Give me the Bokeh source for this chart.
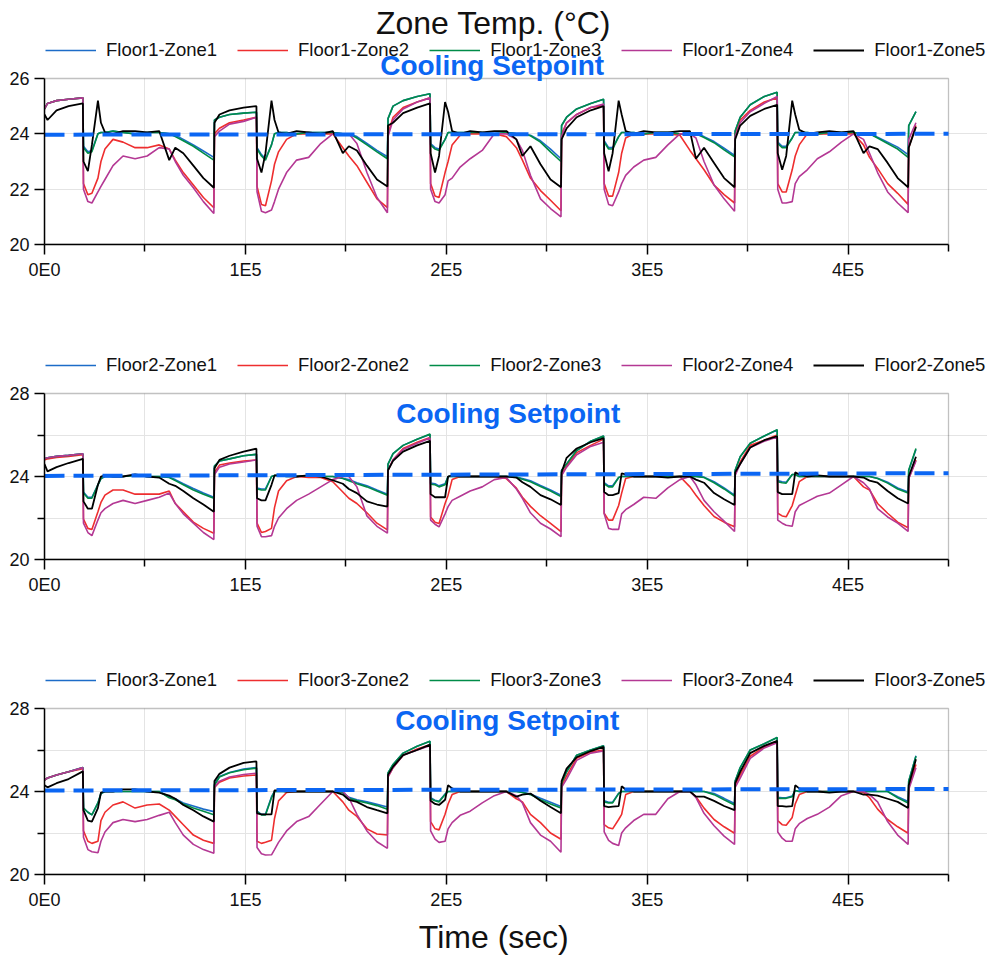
from bokeh.plotting import figure
from bokeh.models import Legend, LegendItem, Label, FixedTicker, Range1d, BoxAnnotation
from bokeh.layouts import column
from bokeh.embed import file_html
from bokeh.resources import INLINE

# ---------------- data ----------------
T = [0, 1500, 6000, 12000,
     19100, 19400, 21600, 23600, 26600, 28100, 30100, 34100, 39100, 45100, 51100, 57100, 62100, 65100, 69100, 74100, 79100, 84300, 84600, 87100, 92100, 99100,
     105500, 105800, 108000, 110000, 113000, 114500, 116500, 120500, 125500, 131500, 137500, 143500, 148500, 151500, 155500, 160500, 165500, 170700, 171000, 173500, 178500, 185500,
     191900, 192200, 194400, 196400, 199400, 200900, 202900, 206900, 211900, 217900, 223900, 229900, 234900, 237900, 241900, 246900, 251900, 257100, 257400, 259900, 264900, 271900,
     278300, 278600, 280800, 282800, 285800, 287300, 289300, 293300, 298300, 304300, 310300, 316300, 321300, 324300, 328300, 333300, 338300, 343500, 343800, 346300, 351300, 358300,
     364700, 365000, 367200, 369200, 372200, 373700, 375700, 379700, 384700, 390700, 396700, 402700, 407700, 410700, 414700, 419700, 424700, 429900, 430200, 433800]

# Floor 1
F1_Z1 = [24.9, 25.1, 25.2, 25.25,
         25.3, 23.55, 23.35, 23.4, 24.0, 24.05, 24.05, 24.1, 24.05, 24.0, 24.05, 24.05, 24.0, 23.95, 23.8, 23.6, 23.38, 23.15, 24.5, 24.6, 24.7, 24.75,
         24.78, 23.5, 23.25, 23.1, 23.6, 24.0, 24.05, 24.05, 24.0, 24.05, 24.05, 24.05, 24.0, 24.0, 23.9, 23.65, 23.4, 23.17, 24.55, 25.0, 25.2, 25.35,
         25.45, 23.65, 23.5, 23.45, 23.8, 24.05, 24.05, 24.05, 24.05, 24.05, 24.0, 24.05, 24.0, 24.0, 23.95, 23.75, 23.45, 23.1, 24.3, 24.6, 24.9, 25.1,
         25.25, 23.75, 23.5, 23.5, 23.9, 24.05, 24.05, 24.05, 24.0, 24.05, 24.05, 24.0, 24.0, 24.0, 23.9, 23.72, 23.48, 23.22, 24.1, 24.6, 25.05, 25.35,
         25.5, 23.7, 23.55, 23.55, 23.85, 24.05, 24.05, 24.05, 24.0, 24.05, 24.05, 24.05, 24.0, 24.0, 23.88, 23.7, 23.52, 23.25, 24.3, 24.8]
F1_Z2 = [24.9, 25.1, 25.2, 25.25,
         25.3, 22.2, 21.8, 21.85, 22.4, 23.0, 23.45, 23.8, 23.7, 23.5, 23.5, 23.6, 23.45, 23.05, 22.6, 22.15, 21.7, 21.33, 24.0, 24.2, 24.4, 24.5,
         24.6, 22.1, 21.45, 21.4, 22.3, 22.9, 23.35, 23.8, 24.0, 24.0, 24.0, 24.0, 23.5, 23.2, 22.85, 22.25, 21.65, 21.33, 24.0, 24.6, 24.95, 25.15,
         25.3, 22.2, 21.75, 21.7, 22.6, 23.0, 23.6, 23.95, 24.0, 24.0, 24.0, 23.9, 23.5, 23.05, 22.4, 21.95, 21.6, 21.22, 24.0, 24.4, 24.7, 24.95,
         25.02, 22.2, 21.75, 21.75, 22.6, 23.3, 23.85, 24.0, 24.0, 24.0, 24.0, 23.95, 23.4, 23.1, 22.7, 22.15, 21.8, 21.5, 24.0, 24.5, 24.85, 25.15,
         25.3, 22.2, 21.9, 21.9, 22.7, 23.2, 23.6, 24.0, 24.0, 24.0, 24.0, 24.0, 23.6, 23.15, 22.75, 22.2, 21.85, 21.45, 23.5, 24.3]
F1_Z3 = [24.9, 25.1, 25.2, 25.25,
         25.3, 23.5, 23.3, 23.35, 24.0, 24.05, 24.05, 24.1, 24.05, 24.0, 24.05, 24.05, 24.0, 23.9, 23.75, 23.55, 23.3, 23.05, 24.5, 24.6, 24.7, 24.75,
         24.78, 23.45, 23.2, 23.05, 23.6, 24.0, 24.05, 24.05, 24.0, 24.05, 24.05, 24.05, 24.0, 24.0, 23.85, 23.6, 23.35, 23.1, 24.55, 25.0, 25.2, 25.35,
         25.45, 23.6, 23.45, 23.4, 23.8, 24.05, 24.05, 24.05, 24.05, 24.05, 24.0, 24.05, 24.0, 24.0, 23.93, 23.7, 23.35, 23.0, 24.3, 24.6, 24.9, 25.1,
         25.25, 23.7, 23.45, 23.45, 23.9, 24.05, 24.05, 24.05, 24.0, 24.05, 24.05, 24.0, 24.0, 24.0, 23.87, 23.68, 23.42, 23.17, 24.1, 24.6, 25.05, 25.35,
         25.5, 23.65, 23.5, 23.5, 23.85, 24.05, 24.05, 24.05, 24.0, 24.05, 24.05, 24.05, 24.0, 24.0, 23.85, 23.65, 23.45, 23.15, 24.3, 24.8]
F1_Z4 = [24.9, 25.1, 25.2, 25.25,
         25.3, 22.0, 21.55, 21.5, 21.9, 22.1, 22.35, 22.85, 23.2, 23.1, 23.2, 23.5, 23.45, 23.0, 22.5, 22.05, 21.55, 21.12, 23.9, 24.1, 24.35, 24.45,
         24.6, 21.9, 21.2, 21.15, 21.25, 21.55, 22.0, 22.6, 23.05, 23.15, 23.65, 24.0, 24.0, 24.0, 23.65, 22.6, 21.7, 21.15, 23.9, 24.5, 24.9, 25.15,
         25.3, 22.0, 21.55, 21.5, 21.8, 22.3, 22.4, 22.8, 23.1, 23.4, 24.0, 24.0, 23.8, 23.4, 22.5, 21.65, 21.3, 21.0, 23.9, 24.4, 24.7, 24.95,
         25.08, 22.0, 21.45, 21.4, 21.9, 22.2, 22.5, 22.8, 23.05, 23.15, 23.6, 24.0, 24.0, 23.85, 23.0, 22.15, 21.65, 21.2, 23.9, 24.4, 24.8, 25.1,
         25.35, 22.0, 21.5, 21.5, 21.55, 22.2, 22.45, 22.7, 23.1, 23.35, 23.7, 24.0, 23.8, 23.3, 22.6, 21.9, 21.5, 21.15, 23.8, 24.4]
F1_Z5 = [24.7, 24.5, 24.85, 25.0,
         25.1, 23.0, 22.65, 23.6, 25.2, 24.4, 24.05, 24.0, 24.1, 24.1, 24.05, 24.1, 23.05, 23.5, 23.3, 22.85, 22.4, 22.05, 24.4, 24.7, 24.85, 24.95,
         25.0, 23.1, 22.6, 23.3, 25.2, 24.5, 24.05, 24.0, 24.1, 24.05, 24.0, 24.1, 23.3, 23.55, 23.4, 22.85, 22.35, 22.1, 24.3, 24.4, 24.75, 24.95,
         25.1, 23.3, 22.6, 23.2, 25.15, 24.8, 24.1, 24.0, 24.1, 24.05, 24.1, 24.1, 23.8, 23.2, 23.55, 22.9, 22.35, 22.07, 23.8, 24.2, 24.6, 24.85,
         25.0, 23.3, 22.65, 23.3, 25.2, 24.7, 24.1, 24.0, 24.1, 24.05, 24.05, 24.1, 24.1, 23.1, 23.5, 22.95, 22.4, 22.07, 23.8, 24.3, 24.65, 24.9,
         25.05, 23.3, 22.7, 23.2, 25.2, 24.7, 24.15, 24.0, 24.05, 24.1, 24.05, 24.1, 23.3, 23.55, 23.45, 22.95, 22.4, 22.07, 23.5, 24.25]

# Floor 2
F2_Z1 = [24.86, 24.9, 24.97, 25.02,
         25.1, 23.25, 23.0, 23.0, 23.6, 23.9, 24.0, 24.0, 24.0, 24.05, 24.0, 24.0, 23.97, 23.85, 23.65, 23.42, 23.2, 23.0, 24.5, 24.75, 24.85, 25.0,
         25.07, 23.45, 23.4, 23.4, 24.0, 24.05, 24.05, 24.0, 24.0, 24.05, 24.0, 24.0, 23.92, 23.85, 23.7, 23.55, 23.35, 23.15, 24.6, 25.1, 25.5, 25.8,
         26.02, 23.68, 23.65, 23.55, 23.65, 24.0, 24.0, 24.0, 24.0, 24.0, 24.0, 24.0, 23.97, 23.9, 23.8, 23.57, 23.35, 23.1, 24.3, 24.6, 25.25, 25.7,
         25.95, 23.7, 23.55, 23.55, 23.95, 24.0, 24.0, 24.0, 24.0, 24.0, 24.0, 24.0, 24.0, 24.0, 23.97, 23.75, 23.45, 23.1, 24.3, 24.95, 25.6, 25.95,
         26.24, 23.8, 23.75, 23.72, 24.1, 24.1, 24.0, 24.0, 24.0, 24.0, 24.0, 24.0, 24.0, 24.0, 23.92, 23.72, 23.45, 23.25, 24.3, 25.3]
F2_Z2 = [24.8, 24.85, 24.92, 24.97,
         25.05, 21.95, 21.5, 21.45, 22.3, 22.75, 23.1, 23.35, 23.35, 23.15, 23.15, 23.15, 23.3, 22.7, 22.3, 21.8, 21.5, 21.27, 24.2, 24.55, 24.65, 24.75,
         24.8, 21.75, 21.3, 21.35, 21.5, 22.5, 23.3, 23.8, 24.0, 23.95, 23.95, 23.75, 23.25, 22.95, 22.7, 22.25, 21.75, 21.43, 24.3, 24.8, 25.35, 25.65,
         25.88, 22.05, 21.8, 21.73, 22.7, 23.1, 23.85, 24.0, 24.0, 24.0, 24.0, 23.9, 23.44, 23.0, 22.56, 22.11, 21.74, 21.34, 24.1, 24.5, 25.15, 25.5,
         25.8, 22.23, 21.9, 21.9, 22.6, 23.2, 23.9, 24.0, 24.0, 24.0, 24.0, 24.0, 23.5, 23.1, 22.6, 22.07, 21.8, 21.58, 24.1, 24.7, 25.5, 25.75,
         26.0, 22.23, 22.1, 22.06, 22.6, 23.1, 23.75, 24.0, 24.0, 24.0, 24.0, 24.0, 23.5, 23.35, 22.7, 22.23, 21.8, 21.53, 23.9, 24.8]
F2_Z3 = [24.86, 24.9, 24.97, 25.02,
         25.1, 23.2, 22.95, 22.95, 23.6, 23.9, 24.0, 24.0, 24.0, 24.05, 24.0, 24.0, 23.95, 23.8, 23.6, 23.35, 23.15, 22.95, 24.5, 24.75, 24.85, 25.0,
         25.07, 23.4, 23.35, 23.35, 24.0, 24.05, 24.05, 24.0, 24.0, 24.05, 24.0, 24.0, 23.9, 23.8, 23.65, 23.5, 23.3, 23.1, 24.6, 25.1, 25.5, 25.8,
         26.05, 23.63, 23.6, 23.5, 23.6, 24.0, 24.0, 24.0, 24.0, 24.0, 24.0, 24.0, 23.97, 23.87, 23.75, 23.52, 23.3, 23.03, 24.3, 24.6, 25.25, 25.7,
         25.95, 23.65, 23.5, 23.5, 23.95, 24.0, 24.0, 24.0, 24.0, 24.0, 24.0, 24.0, 24.0, 24.0, 23.95, 23.7, 23.4, 23.05, 24.3, 24.95, 25.6, 25.95,
         26.26, 23.75, 23.7, 23.68, 24.1, 24.1, 24.0, 24.0, 24.0, 24.0, 24.0, 24.0, 24.0, 24.0, 23.9, 23.68, 23.4, 23.2, 24.3, 25.35]
F2_Z4 = [24.86, 24.9, 24.97, 25.02,
         25.1, 21.75, 21.3, 21.15, 21.9, 22.25, 22.45, 22.7, 22.85, 22.7, 22.85, 23.0, 23.2, 22.7, 22.2, 21.75, 21.3, 20.96, 24.1, 24.45, 24.6, 24.7,
         24.8, 21.6, 21.1, 21.1, 21.15, 21.6, 22.0, 22.45, 22.85, 23.15, 23.5, 23.85, 24.0, 24.0, 23.5, 22.1, 21.6, 21.27, 24.3, 24.8, 25.3, 25.6,
         25.85, 21.9, 21.7, 21.57, 22.2, 22.55, 22.85, 23.05, 23.3, 23.5, 23.85, 23.95, 23.4, 22.95, 22.25, 21.75, 21.47, 21.1, 24.05, 24.45, 25.05, 25.45,
         25.65, 22.2, 21.5, 21.45, 21.45, 22.2, 22.4, 22.65, 23.0, 22.95, 23.45, 23.85, 24.0, 23.6, 22.85, 22.3, 21.85, 21.35, 24.05, 24.6, 25.4, 25.7,
         25.9, 21.9, 21.75, 21.65, 21.6, 22.3, 22.6, 22.8, 23.05, 23.2, 23.6, 24.0, 23.7, 23.4, 22.45, 22.05, 21.75, 21.35, 23.9, 24.75]
F2_Z5 = [24.6, 24.25, 24.45, 24.65,
         24.85, 22.8, 22.45, 22.45, 23.6, 24.0, 24.05, 24.0, 24.0, 24.1, 24.0, 23.95, 23.65, 23.55, 23.3, 22.95, 22.65, 22.3, 24.4, 24.8, 25.0, 25.2,
         25.34, 22.95, 22.85, 22.85, 23.6, 24.05, 24.05, 24.05, 24.0, 24.05, 24.0, 23.82, 23.65, 23.4, 23.2, 22.8, 22.65, 22.55, 24.3, 24.75, 25.2, 25.5,
         25.72, 23.15, 23.0, 23.0, 23.0, 24.0, 24.05, 24.0, 24.0, 24.0, 24.0, 24.0, 23.95, 23.72, 23.5, 23.1, 22.9, 22.63, 24.2, 24.9, 25.35, 25.65,
         25.85, 23.25, 23.1, 23.1, 23.2, 24.15, 24.1, 24.0, 24.0, 24.0, 23.95, 24.0, 24.0, 23.85, 23.7, 23.2, 22.9, 22.63, 24.2, 24.6, 25.4, 25.75,
         25.94, 23.25, 23.15, 23.15, 23.15, 24.2, 24.1, 24.0, 24.05, 24.0, 24.0, 24.0, 23.95, 23.8, 23.7, 23.3, 22.95, 22.7, 24.0, 24.95]

# Floor 3
F3_Z1 = [24.55, 24.65, 24.8, 24.95,
         25.16, 23.2, 23.0, 22.87, 23.45, 23.9, 24.0, 24.0, 24.0, 24.0, 24.0, 24.0, 23.75, 23.65, 23.45, 23.3, 23.15, 23.03, 24.35, 24.72, 24.92, 25.08,
         25.16, 23.05, 22.9, 22.9, 23.75, 24.0, 24.0, 24.0, 24.0, 24.0, 24.0, 24.0, 23.95, 23.72, 23.6, 23.5, 23.38, 23.25, 24.9, 25.3, 25.85, 26.18,
         26.42, 23.7, 23.58, 23.53, 23.88, 24.0, 24.0, 24.0, 24.0, 24.0, 24.0, 24.0, 24.0, 23.97, 23.88, 23.67, 23.48, 23.28, 24.4, 24.95, 25.75, 26.0,
         26.2, 23.55, 23.48, 23.48, 23.92, 24.0, 24.0, 24.0, 24.0, 24.0, 24.0, 24.0, 24.0, 24.0, 24.0, 23.9, 23.67, 23.42, 24.5, 25.15, 26.0, 26.3,
         26.6, 23.72, 23.7, 23.7, 23.78, 24.05, 24.0, 24.0, 24.0, 24.0, 24.0, 24.0, 24.0, 24.0, 24.0, 24.0, 23.75, 23.52, 24.5, 25.72]
F3_Z2 = [24.55, 24.65, 24.8, 24.95,
         25.1, 22.1, 21.6, 21.5, 21.6, 22.6, 23.0, 23.35, 23.5, 23.2, 23.35, 23.4, 23.1, 22.8, 22.4, 21.9, 21.65, 21.5, 24.2, 24.45, 24.65, 24.75,
         24.8, 21.6, 21.5, 21.55, 21.65, 22.7, 23.55, 23.95, 24.0, 24.0, 24.0, 24.0, 23.5, 23.1, 22.8, 22.2, 21.95, 21.9, 24.7, 25.15, 25.75, 26.05,
         26.25, 22.55, 22.2, 22.15, 22.9, 23.4, 23.85, 24.0, 24.0, 24.0, 24.0, 24.0, 23.65, 23.5, 22.9, 22.5, 22.0, 21.7, 24.3, 24.75, 25.6, 25.9,
         26.0, 22.4, 22.25, 22.2, 22.65, 22.9, 23.85, 24.0, 24.0, 24.0, 24.0, 24.0, 24.0, 23.75, 23.2, 22.65, 22.3, 21.99, 24.3, 24.8, 25.7, 26.15,
         26.38, 22.6, 22.4, 22.37, 22.75, 23.4, 23.85, 24.0, 24.0, 24.0, 24.0, 24.0, 23.95, 23.7, 23.15, 22.65, 22.3, 21.99, 24.2, 25.3]
F3_Z3 = [24.55, 24.65, 24.8, 24.95,
         25.16, 23.2, 23.0, 22.87, 23.45, 23.9, 24.0, 24.0, 24.0, 24.0, 24.0, 24.0, 23.7, 23.6, 23.4, 23.2, 23.05, 22.88, 24.3, 24.7, 24.9, 25.05,
         25.13, 23.03, 22.87, 22.87, 23.7, 24.0, 24.0, 24.0, 24.0, 24.0, 24.0, 24.0, 23.95, 23.68, 23.56, 23.45, 23.32, 23.15, 24.9, 25.3, 25.85, 26.18,
         26.42, 23.65, 23.55, 23.5, 23.85, 24.0, 24.0, 24.0, 24.0, 24.0, 24.0, 24.0, 24.0, 23.95, 23.85, 23.6, 23.4, 23.2, 24.4, 24.95, 25.75, 26.0,
         26.2, 23.5, 23.45, 23.45, 23.9, 24.0, 24.0, 24.0, 24.0, 24.0, 24.0, 24.0, 24.0, 24.0, 24.0, 23.85, 23.6, 23.35, 24.5, 25.15, 26.0, 26.3,
         26.6, 23.67, 23.67, 23.67, 23.75, 24.05, 24.0, 24.0, 24.0, 24.0, 24.0, 24.0, 24.0, 24.0, 24.0, 24.0, 23.7, 23.45, 24.5, 25.7]
F3_Z4 = [24.55, 24.65, 24.8, 24.95,
         25.15, 21.8, 21.2, 21.1, 21.05, 21.6, 22.05, 22.5, 22.65, 22.55, 22.65, 22.85, 23.0, 22.5, 21.9, 21.45, 21.2, 21.02, 24.2, 24.5, 24.7, 24.82,
         24.88, 21.3, 21.0, 20.94, 20.95, 21.2, 21.55, 22.1, 22.55, 22.79, 23.4, 24.0, 24.0, 23.7, 22.9, 22.1, 21.58, 21.26, 24.7, 25.15, 25.75, 26.0,
         26.2, 22.1, 21.7, 21.55, 21.6, 22.2, 22.5, 22.85, 23.05, 23.45, 23.8, 24.0, 23.8, 23.45, 22.5, 21.9, 21.6, 21.07, 24.2, 24.6, 25.5, 25.85,
         25.95, 22.05, 21.65, 21.5, 21.4, 22.0, 22.25, 22.6, 22.9, 22.9, 23.65, 24.0, 24.0, 23.7, 22.95, 22.35, 21.85, 21.45, 24.2, 24.65, 25.6, 26.1,
         26.35, 22.05, 21.75, 21.6, 21.6, 22.2, 22.45, 22.7, 22.9, 23.25, 23.8, 24.0, 24.0, 23.85, 23.5, 22.55, 21.9, 21.45, 24.1, 25.15]
F3_Z5 = [24.3, 24.2, 24.4, 24.6,
         24.97, 23.1, 22.6, 22.55, 23.2, 23.95, 24.0, 24.0, 24.1, 24.1, 24.0, 23.95, 23.8, 23.65, 23.35, 23.1, 22.8, 22.55, 24.5, 24.85, 25.15, 25.38,
         25.45, 22.95, 22.9, 22.9, 22.9, 24.05, 24.05, 24.0, 24.0, 24.0, 24.0, 24.0, 23.85, 23.6, 23.5, 23.25, 23.1, 22.95, 24.8, 25.2, 25.75, 26.0,
         26.26, 23.55, 23.4, 23.35, 23.6, 24.3, 24.15, 24.0, 24.0, 24.0, 24.0, 24.0, 23.75, 23.85, 23.9, 23.55, 23.25, 22.95, 24.5, 25.1, 25.65, 25.95,
         26.15, 23.3, 23.25, 23.27, 23.3, 24.25, 24.1, 24.0, 24.0, 24.0, 24.0, 24.0, 24.0, 23.75, 23.75, 23.55, 23.3, 23.1, 24.4, 24.95, 25.85, 26.2,
         26.44, 23.3, 23.3, 23.27, 23.3, 24.3, 24.15, 24.0, 24.0, 23.95, 24.0, 24.0, 23.85, 23.85, 23.8, 23.65, 23.5, 23.2, 24.3, 25.55]

ZONES = ["Zone1", "Zone2", "Zone3", "Zone4", "Zone5"]
ZONE_COLORS = ["#1c6cc8", "#ee2e2f", "#008c48", "#b43894", "#000000"]

SETPOINT_T = [0, 450000]
SETPOINT_F1 = [23.97, 24.0]
SETPOINT_F2 = [24.03, 24.16]
SETPOINT_F3 = [24.05, 24.12]

X_MAX = 450000
X_TICKS = [0, 100000, 200000, 300000, 400000]
X_TICK_LABELS = ["0E0", "1E5", "2E5", "3E5", "4E5"]
X_MINOR = [50000, 150000, 250000, 350000, 450000]
X_GRID = [50000, 100000, 150000, 200000, 250000, 300000, 350000, 400000]

FLOORS = [
    ("Floor1", [F1_Z1, F1_Z2, F1_Z3, F1_Z4, F1_Z5], SETPOINT_F1, 26, [20, 22, 24, 26], [], [22, 24]),
    ("Floor2", [F2_Z1, F2_Z2, F2_Z3, F2_Z4, F2_Z5], SETPOINT_F2, 28, [20, 24, 28], [22, 26], [22, 24, 26]),
    ("Floor3", [F3_Z1, F3_Z2, F3_Z3, F3_Z4, F3_Z5], SETPOINT_F3, 28, [20, 24, 28], [22, 26], [22, 24, 26]),
]
for _, ser, _, _, _, _, _ in FLOORS:
    for s in ser:
        assert len(s) == len(T), (len(s), len(T))

# ---------------- styling / layout ----------------
FONT = "Liberation Sans"
SP_COLOR = "#0b66f3"
PLOT_W = 904                      # width of the data area (0 .. X_MAX)
FRAME_W = 943                     # frame reaches the right edge of the page (room for legend)
PLOT_H = 166                      # height of the data area (20 .. ymax)
EXTRA = [78, 89, 89]              # frame extends above the data area (legend / titles)
BOTTOM = [60, 60, 81]
SP_LABEL_POS = [(167100, 26.47), (175100, 27.04), (174600, 27.40)]

panels = []
for i, (floor, series, sp, ymax, yticks, yminor, ygrid) in enumerate(FLOORS):
    fh = PLOT_H + EXTRA[i]
    y_end = 20 + (ymax - 20) * fh / PLOT_H
    x_end = X_MAX * FRAME_W / PLOT_W
    p = figure(frame_width=FRAME_W, frame_height=fh,
               x_range=Range1d(0, x_end), y_range=Range1d(20, y_end),
               output_backend="svg", toolbar_location=None,
               min_border_left=44, min_border_right=0,
               min_border_top=0, min_border_bottom=BOTTOM[i])
    p.outline_line_color = None
    p.background_fill_color = "white"
    p.border_fill_color = "white"

    p.xaxis.ticker = FixedTicker(ticks=X_TICKS, minor_ticks=X_MINOR)
    p.xaxis.major_label_overrides = {k: v for k, v in zip(X_TICKS, X_TICK_LABELS)}
    p.xaxis.bounds = (0, X_MAX)
    p.yaxis.ticker = FixedTicker(ticks=yticks, minor_ticks=yminor)
    p.yaxis.bounds = (20, ymax)
    for ax in (p.xaxis, p.yaxis):
        ax.axis_line_color = "black"
        ax.axis_line_width = 1.5
        ax.major_tick_line_color = "black"
        ax.minor_tick_line_color = "black"
        ax.major_tick_line_width = 1.5
        ax.minor_tick_line_width = 1.5
        ax.major_tick_in = 0
        ax.minor_tick_in = 0
        ax.major_tick_out = 10
        ax.minor_tick_out = 7
        ax.major_label_text_font = FONT
        ax.major_label_text_font_size = "18px"
        ax.major_label_text_color = "#111111"
        ax.major_label_standoff = 5

    p.xgrid.ticker = FixedTicker(ticks=X_GRID)
    p.xgrid.cross_bounds = (20, ymax)
    p.ygrid.ticker = FixedTicker(ticks=ygrid)
    p.ygrid.bounds = (0, X_MAX)
    p.xgrid.grid_line_color = "#e4e4e4"
    p.ygrid.grid_line_color = "#e4e4e4"

    # frame of the data area
    p.add_layout(BoxAnnotation(left=0, right=X_MAX, bottom=20, top=ymax,
                               fill_alpha=0, line_color="#333333", line_width=1.3,
                               level="underlay"))

    items = []
    for z, (vals, col) in enumerate(zip(series, ZONE_COLORS)):
        r = p.line(T, vals, line_color=col, line_width=1.8 if z == 4 else 1.6)
        items.append(LegendItem(label=f"{floor}-{ZONES[z]}", renderers=[r]))

    p.line(SETPOINT_T, sp, line_color=SP_COLOR, line_width=4, line_dash="20 9")

    lx, ly = SP_LABEL_POS[i]
    p.add_layout(Label(x=lx, y=ly, text="Cooling Setpoint", text_font=FONT,
                       text_font_style="bold", text_font_size="28px",
                       text_color=SP_COLOR, text_baseline="alphabetic"))

    leg = Legend(items=items, orientation="horizontal", location=(1, PLOT_H + 17),
                 glyph_width=51, glyph_height=20, label_standoff=10, spacing=20,
                 padding=0, margin=0, border_line_color=None, background_fill_alpha=0,
                 label_text_font=FONT, label_text_font_size="18.5px", label_text_color="#111111")
    p.add_layout(leg)
    panels.append(p)

panels[0].add_layout(Label(x=449, y=PLOT_H + 56, x_units="screen", y_units="screen",
                           text="Zone Temp. (°C)", text_font=FONT, text_font_size="32px",
                           text_align="center", text_baseline="alphabetic", text_color="#111111"))

p3 = panels[2]
# trailing no-break spaces move the centred label onto the centre of the data area
p3.xaxis.axis_label = "Time (sec)" + "\u00a0" * 5
p3.xaxis.axis_label_text_font = FONT
p3.xaxis.axis_label_text_font_size = "32px"
p3.xaxis.axis_label_text_font_style = "normal"
p3.xaxis.axis_label_text_color = "#111111"
p3.xaxis.axis_label_standoff = 6

layout = column(*panels, spacing=0)
open("out.html", "w").write(file_html(layout, INLINE))
